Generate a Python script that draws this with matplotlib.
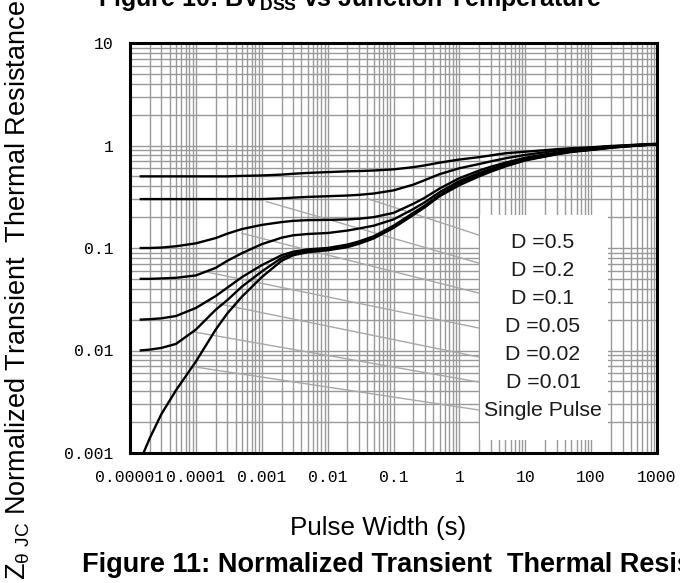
import numpy as np
import matplotlib
matplotlib.use('Agg')
import matplotlib.pyplot as plt
from matplotlib.patches import Rectangle
from matplotlib.ticker import LogLocator, NullFormatter

plt.rcParams['font.family'] = ['Liberation Sans', 'DejaVu Sans']

# pulse width (s) for the duty-cycle curves
pulse_width = [1.4e-5, 2e-5, 3e-5, 5e-5, 1e-4, 2e-4, 3e-4, 5e-4, 1e-3, 2e-3, 3e-3, 5e-3,
               1e-2, 2e-2, 3e-2, 5e-2, 0.1, 0.2, 0.3, 0.5, 1, 2, 3, 5, 10, 20, 30, 50,
               100, 200, 300, 500, 1000]
zth_d05 = [0.50, 0.50, 0.50, 0.50, 0.50, 0.50, 0.50, 0.505, 0.51, 0.52, 0.53, 0.54,
           0.55, 0.56, 0.563, 0.57, 0.585, 0.615, 0.64, 0.68, 0.73, 0.77, 0.80, 0.84, 0.87,
           0.90, 0.92, 0.94, 0.96, 0.99, 1.0, 1.02, 1.04]
zth_d02 = [0.30, 0.30, 0.30, 0.30, 0.30, 0.30, 0.30, 0.30, 0.30, 0.305, 0.31, 0.315,
           0.32, 0.325, 0.33, 0.34, 0.365, 0.415, 0.46, 0.525, 0.60, 0.66, 0.70, 0.75, 0.81,
           0.86, 0.89, 0.92, 0.95, 0.98, 0.995, 1.01, 1.03]
zth_d01 = [0.10, 0.10, 0.101, 0.104, 0.111, 0.125, 0.138, 0.153, 0.168, 0.179, 0.184, 0.187,
           0.188, 0.19, 0.193, 0.20, 0.22, 0.27, 0.31, 0.38, 0.48, 0.57, 0.62, 0.68, 0.76,
           0.82, 0.85, 0.89, 0.93, 0.97, 0.99, 1.01, 1.03]
zth_d005 = [0.05, 0.05, 0.0505, 0.0512, 0.054, 0.064, 0.075, 0.089, 0.109, 0.126, 0.133, 0.137,
            0.14, 0.148, 0.155, 0.165, 0.19, 0.24, 0.28, 0.35, 0.45, 0.54, 0.59, 0.66, 0.74,
            0.80, 0.84, 0.88, 0.92, 0.965, 0.985, 1.005, 1.03]
zth_d002 = [0.02, 0.0202, 0.0206, 0.0217, 0.026, 0.034, 0.041, 0.052, 0.068, 0.085, 0.092, 0.097,
            0.10, 0.108, 0.116, 0.13, 0.165, 0.22, 0.26, 0.33, 0.43, 0.52, 0.57, 0.64, 0.73,
            0.79, 0.83, 0.875, 0.915, 0.96, 0.98, 1.0, 1.03]
zth_d001 = [0.01, 0.0102, 0.0106, 0.0116, 0.016, 0.025, 0.031, 0.042, 0.059, 0.08, 0.088, 0.094,
            0.098, 0.105, 0.113, 0.127, 0.16, 0.215, 0.255, 0.325, 0.42, 0.51, 0.565, 0.635, 0.725,
            0.785, 0.825, 0.87, 0.91, 0.955, 0.975, 1.0, 1.03]

pulse_width_single = [1.6e-5, 2e-5, 3e-5, 5e-5, 1e-4, 2e-4, 3e-4, 5e-4, 1e-3, 2e-3, 3e-3, 5e-3,
                      1e-2, 2e-2, 3e-2, 5e-2, 0.1, 0.2, 0.3, 0.5, 1, 2, 3, 5, 10, 20, 30, 50,
                      100, 200, 300, 500, 1000]
zth_single = [0.001, 0.0014, 0.0024, 0.0041, 0.0078, 0.016, 0.023, 0.0335, 0.052, 0.075, 0.085, 0.091,
              0.095, 0.102, 0.11, 0.124, 0.157, 0.21, 0.25, 0.32, 0.41, 0.50, 0.555, 0.625, 0.715,
              0.78, 0.82, 0.865, 0.905, 0.95, 0.97, 0.995, 1.03]

curve_labels = ['D =0.5', 'D =0.2', 'D =0.1', 'D =0.05', 'D =0.02', 'D =0.01', 'Single Pulse']

# gray leader lines from the curves to the label box
leader_x0 = [0.0392, 0.00119, 0.000497, 0.000138, 0.000155, 0.0000914, 0.0000914]
leader_y0 = [0.305, 0.283, 0.139, 0.0587, 0.0299, 0.0152, 0.00695]
leader_x1 = 1.95
leader_y1 = [0.134, 0.0714, 0.0364, 0.0166, 0.00865, 0.00493, 0.00263]

x_ticks = [1e-5, 1e-4, 1e-3, 1e-2, 0.1, 1, 10, 100, 1000]
x_tick_labels = ['0.00001', '0.0001', '0.001', '0.01', '0.1', '1', '10', '100', '1000']
y_ticks = [0.001, 0.01, 0.1, 1, 10]
y_tick_labels = ['0.001', '0.01', '0.1', '1', '10']

fig = plt.figure(figsize=(6.8, 5.83), dpi=100)
ax = fig.add_axes([130 / 680, 130 / 583, 527 / 680, 410 / 583])
ax.set_xscale('log')
ax.set_yscale('log')
ax.set_xlim(1e-5, 1000)
ax.set_ylim(0.001, 10)

ax.xaxis.set_minor_locator(LogLocator(base=10, subs=np.arange(2, 10), numticks=100))
ax.yaxis.set_minor_locator(LogLocator(base=10, subs=np.arange(2, 10), numticks=100))
ax.xaxis.set_minor_formatter(NullFormatter())
ax.yaxis.set_minor_formatter(NullFormatter())
ax.set_xticks(x_ticks)
ax.set_xticklabels(x_tick_labels)
ax.set_yticks(y_ticks)
ax.set_yticklabels(y_tick_labels)
for lab in ax.get_xticklabels() + ax.get_yticklabels():
    lab.set_fontfamily('Liberation Mono')
    lab.set_fontsize(11.8)
ax.tick_params(which='both', length=0, pad=12)
ax.grid(which='both', color='#999999', lw=1.0)
ax.set_axisbelow(True)
for sp in ax.spines.values():
    sp.set_linewidth(2.2)
    sp.set_color('black')

for x0, y0, y1 in zip(leader_x0, leader_y0, leader_y1):
    ax.plot([x0, leader_x1], [y0, y1], color='#a8a8a8', lw=1.0, zorder=2)

ax.add_patch(Rectangle((350 / 527, 13 / 410), 128 / 527, 225 / 410, transform=ax.transAxes,
                       facecolor='white', edgecolor='none', zorder=2.5))

for zth in [zth_d05, zth_d02, zth_d01, zth_d005, zth_d002, zth_d001]:
    ax.plot(pulse_width, zth, color='black', lw=1.7, zorder=3, solid_capstyle='butt')
ax.plot(pulse_width_single, zth_single, color='black', lw=1.7, zorder=3, solid_capstyle='butt')

label_y = [243, 271, 298, 327, 355, 382, 410]
for lab, py in zip(curve_labels, label_y):
    ax.text(413 / 527, (453 - py) / 410, lab, transform=ax.transAxes, ha='center', va='center',
            fontsize=15.3, color='#1a1a1a', zorder=4)

fig.text(18 / 680, 3 / 583, 'Z$\\mathregular{_{θ\\ JC}}$ Normalized Transient  Thermal Resistance',
         rotation=90, ha='center', va='bottom', fontsize=19.5)
fig.text(378 / 680, 55 / 583, 'Pulse Width (s)', ha='center', va='center', fontsize=18.7)
fig.text(82 / 680, 18 / 583, 'Figure 11: Normalized Transient  Thermal Resistance',
         ha='left', va='center', fontsize=19.5, fontweight='bold')
fig.text(98 / 680, 1 - 6 / 583, 'Figure 10: BV$\\mathregular{_{DSS}}$ vs Junction Temperature',
         ha='left', va='baseline', fontsize=18, fontweight='bold')

fig.savefig('out.png', dpi=100)
